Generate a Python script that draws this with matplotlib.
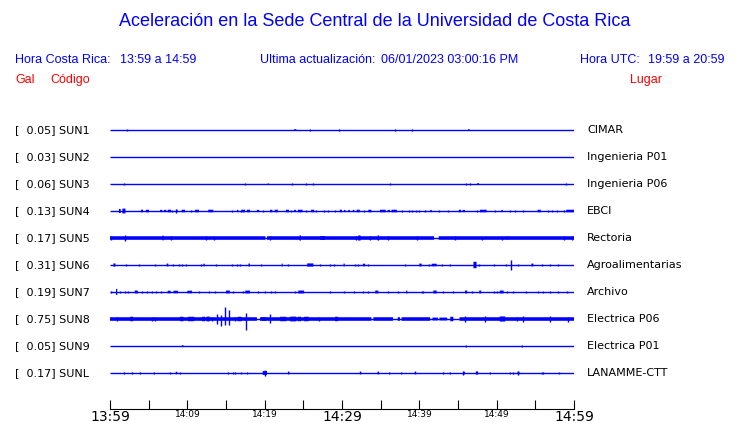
import matplotlib
matplotlib.use("Agg")
from matplotlib import pyplot as plt
from matplotlib import transforms

BLUE = "#0000ff"
RED = "#ff0000"

codes = ["SUN1", "SUN2", "SUN3", "SUN4", "SUN5", "SUN6", "SUN7", "SUN8", "SUN9", "SUNL"]
places = ["CIMAR", "Ingenieria P01", "Ingenieria P06", "EBCI", "Rectoria",
          "Agroalimentarias", "Archivo", "Electrica P06", "Electrica P01", "LANAMME-CTT"]
peak_gal = [0.05, 0.03, 0.06, 0.13, 0.17, 0.31, 0.19, 0.75, 0.05, 0.17]

tick_min = list(range(0, 61, 5))
tick_text = {0: "13:59", 10: "14:09", 20: "14:19", 30: "14:29", 40: "14:39", 50: "14:49", 60: "14:59"}
big_ticks = [0, 30, 60]

# steady noise band: (start min, end min, half amplitude in Gal)
sun5_band = [(0, 20.1, 0.11), (20.3, 41.9, 0.11), (42.5, 60, 0.11)]
sun8_band = [(0, 19.0, 0.11), (19.4, 33.8, 0.11), (34.05, 36.6, 0.11), (37.2, 37.5, 0.11),
             (37.7, 41.4, 0.11), (41.7, 42.4, 0.09), (42.6, 43.6, 0.09), (45.2, 60, 0.11)]

# bursts: (start min, end min, up Gal[, down Gal]); start == end is a single spike
sun1 = [(2.2, 2.2, 0.04), (23.8, 24.1, 0.05), (25.8, 25.8, 0.04), (29.6, 29.6, 0.04),
        (36.9, 36.9, 0.05), (39.1, 39.1, 0.05), (46.3, 46.5, 0.05)]
sun2 = [(20.3, 20.3, 0.03)]
sun3 = [(1.85, 1.85, 0.06), (2.6, 2.6, 0.03), (17.4, 17.4, 0.06), (20.4, 20.5, 0.06),
        (23.5, 23.5, 0.05), (25.3, 25.3, 0.05), (26.2, 26.2, 0.05), (32.9, 32.9, 0.03),
        (36.2, 36.2, 0.04), (41.6, 41.6, 0.03), (46.0, 46.0, 0.06), (46.5, 46.5, 0.06),
        (47.5, 47.7, 0.06), (59.0, 59.0, 0.06)]
sun4 = [(1.16, 1.38, 0.13), (1.6, 2.0, 0.15), (4.0, 4.27, 0.08), (4.65, 5.04, 0.08),
        (6.47, 6.77, 0.07), (6.98, 7.28, 0.07), (7.46, 7.89, 0.08), (8.06, 8.06, 0.06),
        (8.5, 8.5, 0.13), (8.55, 8.75, 0.08), (9.27, 9.7, 0.08), (10.5, 10.5, 0.05),
        (11.0, 11.5, 0.08), (12.7, 13.36, 0.08), (15.8, 15.8, 0.05), (16.4, 16.6, 0.07),
        (16.9, 16.9, 0.06), (17.0, 17.46, 0.08), (17.7, 18.1, 0.08), (19.0, 19.3, 0.07),
        (19.75, 19.75, 0.06), (20.7, 21.0, 0.08), (21.3, 21.7, 0.08), (22.75, 23.15, 0.08),
        (23.4, 23.4, 0.06), (23.8, 24.05, 0.07), (24.3, 24.9, 0.08), (25.4, 25.4, 0.06),
        (26.0, 26.4, 0.08), (26.7, 26.7, 0.04), (27.7, 27.7, 0.06), (28.2, 28.2, 0.04),
        (29.1, 29.1, 0.06), (29.7, 30.0, 0.08), (30.26, 30.43, 0.07), (30.8, 31.0, 0.07),
        (31.4, 31.6, 0.07), (31.9, 32.3, 0.08), (32.85, 32.85, 0.06), (33.4, 33.8, 0.08),
        (34.9, 35.65, 0.08), (35.9, 36.2, 0.07), (36.4, 37.1, 0.08), (37.7, 37.7, 0.06),
        (38.6, 38.6, 0.06), (39.05, 39.05, 0.06), (39.6, 39.6, 0.04), (40.0, 40.0, 0.06),
        (40.7, 40.7, 0.06), (41.4, 41.6, 0.07), (42.6, 42.6, 0.04), (43.75, 43.75, 0.06),
        (45.1, 45.4, 0.08), (45.6, 45.9, 0.07), (47.4, 47.4, 0.06), (47.85, 48.7, 0.08),
        (49.8, 49.8, 0.06), (50.6, 50.8, 0.07), (51.7, 51.7, 0.04), (52.4, 52.4, 0.06),
        (53.4, 53.4, 0.04), (55.3, 55.7, 0.08), (56.7, 56.7, 0.06), (57.2, 57.2, 0.06),
        (57.8, 57.8, 0.06), (58.7, 58.7, 0.06), (59.0, 60.0, 0.08)]
sun5 = [(0.13, 0.13, 0.14), (1.94, 1.94, 0.17), (6.77, 6.94, 0.15), (7.9, 7.9, 0.15),
        (12.4, 12.4, 0.15), (13.5, 13.5, 0.05, 0.13), (20.7, 20.7, 0.14), (24.5, 24.7, 0.16),
        (27.2, 27.8, 0.12), (31.8, 31.8, 0.15), (32.1, 32.4, 0.16), (33.6, 33.6, 0.13),
        (34.6, 34.8, 0.16), (35.9, 35.9, 0.13), (39.7, 39.7, 0.14), (44.6, 44.6, 0.13),
        (48.1, 48.1, 0.05, 0.13), (50.7, 50.7, 0.05, 0.15), (51.3, 51.3, 0.13, 0.05),
        (58.7, 58.7, 0.14), (59.7, 59.7, 0.14)]
sun6 = [(0.45, 0.7, 0.1), (2.03, 2.03, 0.09), (3.8, 3.8, 0.09), (5.86, 5.86, 0.09),
        (7.33, 7.54, 0.09), (8.15, 8.15, 0.08), (8.92, 8.92, 0.08), (9.35, 9.35, 0.08),
        (9.83, 9.83, 0.08), (11.77, 11.77, 0.08), (12.07, 12.25, 0.08), (13.67, 13.67, 0.09),
        (15.74, 15.74, 0.08), (16.38, 16.38, 0.08), (16.8, 16.8, 0.08), (17.9, 18.1, 0.09),
        (19.57, 19.57, 0.08), (22.2, 22.33, 0.09), (23.06, 23.06, 0.08), (25.5, 26.3, 0.1),
        (27.16, 27.16, 0.08), (28.5, 28.5, 0.09), (28.97, 28.97, 0.08), (30.2, 30.35, 0.09),
        (31.7, 31.7, 0.07), (32.1, 32.1, 0.07), (32.7, 33.0, 0.08), (33.4, 33.4, 0.08),
        (38.1, 38.1, 0.09), (40.0, 40.3, 0.09), (41.2, 41.2, 0.08), (41.6, 42.25, 0.08),
        (42.9, 42.9, 0.06), (44.0, 44.0, 0.07), (47.0, 47.4, 0.2), (47.75, 47.75, 0.09),
        (49.7, 49.7, 0.08), (51.2, 51.2, 0.08), (51.9, 51.9, 0.31), (52.8, 52.8, 0.08),
        (54.5, 54.75, 0.09), (55.8, 55.8, 0.09), (56.9, 56.9, 0.08), (57.9, 57.9, 0.09)]
sun7 = [(0.09, 0.09, 0.08), (0.78, 0.94, 0.19), (1.29, 1.29, 0.09), (1.94, 1.94, 0.08),
        (2.37, 2.37, 0.08), (3.2, 3.6, 0.09), (4.2, 4.2, 0.08), (4.75, 4.75, 0.08),
        (5.4, 5.4, 0.08), (5.95, 5.95, 0.08), (6.6, 6.6, 0.08), (7.46, 7.85, 0.08),
        (8.2, 8.8, 0.08), (10.0, 10.6, 0.08), (11.55, 11.55, 0.09), (12.8, 12.8, 0.08),
        (13.6, 13.6, 0.07), (15.0, 15.5, 0.09), (15.95, 15.95, 0.07), (17.2, 17.2, 0.08),
        (17.5, 18.1, 0.09), (19.2, 19.2, 0.07), (20.0, 20.0, 0.07), (20.8, 20.8, 0.08),
        (21.3, 21.3, 0.08), (23.9, 23.9, 0.08), (24.35, 25.1, 0.09), (28.4, 28.4, 0.08),
        (30.3, 30.3, 0.08), (31.6, 31.6, 0.07), (32.76, 32.76, 0.07), (33.4, 33.4, 0.08),
        (34.3, 34.7, 0.09), (35.9, 35.9, 0.07), (37.2, 37.2, 0.08), (38.3, 38.45, 0.09),
        (40.3, 40.3, 0.08), (40.5, 40.5, 0.08), (41.8, 42.25, 0.09), (43.0, 43.0, 0.07),
        (44.4, 44.4, 0.08), (45.9, 46.2, 0.09), (46.8, 46.8, 0.07), (47.75, 48.0, 0.09),
        (49.7, 49.7, 0.08), (50.0, 50.0, 0.07), (50.4, 50.9, 0.09), (51.4, 51.4, 0.08),
        (52.15, 52.15, 0.07), (53.8, 53.8, 0.08), (55.4, 55.4, 0.08), (55.95, 55.95, 0.07),
        (56.9, 56.9, 0.07), (57.9, 57.9, 0.07), (59.1, 59.1, 0.08)]
sun8 = [(0.87, 0.87, 0.15), (2.6, 3.0, 0.14), (5.4, 5.4, 0.14), (5.8, 5.8, 0.14),
        (9.05, 9.5, 0.14), (10.1, 10.9, 0.14), (11.9, 12.3, 0.14), (12.5, 12.9, 0.15),
        (13.2, 13.2, 0.14), (13.8, 13.8, 0.31, 0.31), (14.3, 14.3, 0.25, 0.42),
        (14.9, 14.9, 0.75, 0.38), (15.4, 15.4, 0.56, 0.38), (16.2, 16.2, 0.13),
        (16.5, 17.0, 0.14), (17.6, 17.6, 0.36, 0.69), (19.6, 20.2, 0.11),
        (20.7, 20.7, 0.31, 0.23), (22.0, 22.8, 0.14), (23.3, 24.1, 0.15), (24.3, 24.7, 0.14),
        (25.1, 25.7, 0.14), (27.0, 27.0, 0.13), (29.1, 29.5, 0.14), (44.0, 44.4, 0.14),
        (45.9, 45.9, 0.19), (48.5, 48.5, 0.19), (50.4, 51.1, 0.16), (52.6, 52.6, 0.15),
        (53.4, 53.4, 0.21), (56.9, 56.9, 0.19), (59.2, 59.2, 0.1, 0.19)]
sun9 = [(9.3, 9.5, 0.05), (20.3, 20.3, 0.03), (46.0, 46.0, 0.04), (53.3, 53.3, 0.04)]
sunl = [(1.85, 1.85, 0.08), (2.8, 2.8, 0.07), (3.9, 3.9, 0.08), (5.7, 5.7, 0.07),
        (7.7, 7.7, 0.07), (8.5, 8.7, 0.08), (9.1, 9.1, 0.07), (15.3, 15.3, 0.06),
        (15.95, 15.95, 0.06), (16.2, 16.2, 0.07), (16.9, 16.9, 0.06), (17.7, 17.7, 0.07),
        (19.75, 20.3, 0.12), (20.0, 20.0, 0.17), (23.0, 23.2, 0.09), (32.3, 32.5, 0.09),
        (34.6, 34.8, 0.09), (36.1, 36.1, 0.07), (37.6, 37.6, 0.05), (39.4, 39.6, 0.09),
        (43.1, 43.1, 0.07), (44.0, 44.0, 0.07), (45.6, 45.6, 0.15), (45.7, 45.9, 0.08),
        (47.3, 47.6, 0.1), (49.2, 49.2, 0.07), (51.7, 51.7, 0.06), (52.1, 52.1, 0.07),
        (52.8, 52.8, 0.15), (52.7, 52.95, 0.08), (55.8, 55.8, 0.05), (56.0, 56.0, 0.05),
        (58.1, 58.1, 0.07)]

bursts = [sun1, sun2, sun3, sun4, sun5, sun6, sun7, sun8, sun9, sunl]
bands = {4: sun5_band, 7: sun8_band}

W, H = 740, 423
K = 16 / 27  # trace units per Gal (16 px per Gal, 27 px between traces)

fig = plt.figure(figsize=(W / 100, H / 100), dpi=100)
# traces at pixel rows 130 + 27*i, axis line at pixel row 409
ax = fig.add_axes([110 / W, 14 / H, 464 / W, 306 / H])
ax.set_xlim(0, 60)
ax.set_ylim((409 - 130) / 27, (103 - 130) / 27)


def draw_range(i, t0, t1, up, down):
    if t1 - t0 < 0.1:
        ax.vlines(t0, i - up * K, i + down * K, color=BLUE, lw=1.0, clip_on=False)
    else:
        ax.bar(t0, (up + down) * K, width=t1 - t0, bottom=i - up * K, align="edge",
               color=BLUE, lw=0, clip_on=False, snap=False)


for i, events in enumerate(bursts):
    ax.hlines(i, 0, 60, color=BLUE, lw=1.0)
    for t0, t1, a in bands.get(i, []):
        draw_range(i, t0, t1, a, a)
    for ev in events:
        up = ev[2]
        down = ev[3] if len(ev) > 3 else ev[2]
        draw_range(i, ev[0], ev[1], up, down)

for s in ["top", "left", "right"]:
    ax.spines[s].set_visible(False)
ax.spines["bottom"].set_linewidth(0.8)
ax.set_yticks([])
ax.set_xticks(tick_min)
ax.set_xticklabels([tick_text.get(m, "") for m in tick_min])
ax.tick_params(axis="x", direction="in", length=6.5, width=0.8, pad=1)
for m, lab in zip(tick_min, ax.get_xticklabels()):
    lab.set_fontsize(10 if m in big_ticks else 6.5)

trans = transforms.blended_transform_factory(fig.transFigure, ax.transData)
for i, (code, place, g) in enumerate(zip(codes, places, peak_gal)):
    ax.text(15 / W, i, "[%6.2f] %s" % (g, code), transform=trans, ha="left",
            va="center", fontsize=8, color="black")
    ax.text(587 / W, i, place, transform=trans, ha="left", va="center",
            fontsize=8, color="black")

hdr = dict(family="Liberation Sans", fontsize=9, va="center")
fig.text(375 / W, 1 - 22 / H, "Aceleración en la Sede Central de la Universidad de Costa Rica",
         ha="center", va="center", fontsize=13, color=BLUE, family="Liberation Sans")
fig.text(15 / W, 1 - 60 / H, "Hora Costa Rica:", color=BLUE, **hdr)
fig.text(120 / W, 1 - 60 / H, "13:59 a 14:59", color=BLUE, **hdr)
fig.text(260 / W, 1 - 60 / H, "Ultima actualización:", color=BLUE, **hdr)
fig.text(381 / W, 1 - 60 / H, "06/01/2023 03:00:16 PM", color=BLUE, **hdr)
fig.text(580 / W, 1 - 60 / H, "Hora UTC:", color=BLUE, **hdr)
fig.text(725 / W, 1 - 60 / H, "19:59 a 20:59", color=BLUE, ha="right", **hdr)
fig.text(15 / W, 1 - 80 / H, "Gal", color=RED, **hdr)
fig.text(50 / W, 1 - 80 / H, "Código", color=RED, **hdr)
fig.text(630 / W, 1 - 80 / H, "Lugar", color=RED, **hdr)

fig.savefig("out.png", dpi=100)
